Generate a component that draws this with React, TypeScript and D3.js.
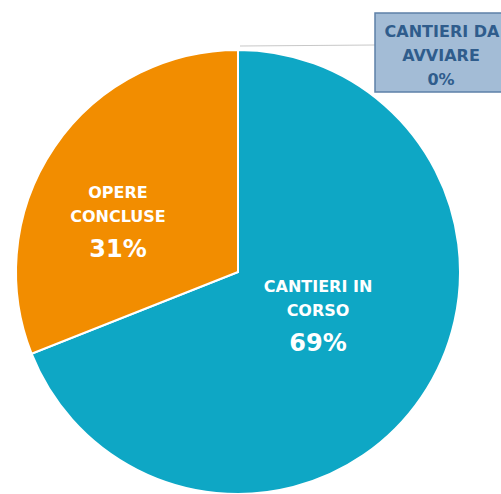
import React from "react";
import * as d3 from "d3";

const categories = ["CANTIERI IN CORSO", "OPERE CONCLUSE", "CANTIERI DA AVVIARE"];
const values = [69, 31, 0];
const percentLabels = ["69%", "31%", "0%"];
const labelLines = [["CANTIERI IN", "CORSO"], ["OPERE", "CONCLUSE"], ["CANTIERI DA", "AVVIARE"]];
const colors = ["#0EA7C5", "#F28D00", "#A3BCD6"];

const W = 501;
const H = 494;
const cx = 238;
const cy = 272;
const R = 222;

export default function App() {
  const pie = d3.pie<number>().sort(null).value((d) => d)(values);
  const arc = d3.arc<d3.PieArcDatum<number>>().innerRadius(0).outerRadius(R);
  const font = "'DejaVu Sans', sans-serif";
  const labelArc = d3.arc<d3.PieArcDatum<number>>().innerRadius(0).outerRadius(R * 0.85);
  const offsets = [[2, -2], [-42, 10]];

  const zeroSlice = pie[2];
  const topPt: [number, number] = [
    cx + R * Math.sin(zeroSlice.startAngle) + 2,
    cy - R * Math.cos(zeroSlice.startAngle) - 4,
  ];
  const box = { x: 375, y: 13, w: 132, h: 79 };

  return (
    <svg width={W} height={H} style={{ position: "absolute", left: 0, top: 0 }}>
      <rect width={W} height={H} fill="#ffffff" />
      <g transform={`translate(${cx},${cy})`}>
        {pie.slice(0, 2).map((p, i) => (
          <path key={i} d={arc(p) || ""} fill={colors[i]} stroke="#ffffff" strokeWidth={2} />
        ))}
        {pie.slice(0, 2).map((p, i) => {
          const [x, y] = labelArc.centroid(p);
          const lx = x + offsets[i][0];
          const ly = y + offsets[i][1];
          return (
            <g key={"l" + i} fill="#ffffff" fontFamily={font} fontWeight="bold" textAnchor="middle">
              <text x={lx} y={ly - 31} fontSize={16}>{labelLines[i][0]}</text>
              <text x={lx} y={ly - 7} fontSize={16}>{labelLines[i][1]}</text>
              <text x={lx} y={ly + 28} fontSize={24}>{percentLabels[i]}</text>
            </g>
          );
        })}
      </g>
      <line x1={topPt[0]} y1={topPt[1]} x2={box.x} y2={45} stroke="#c8c8c8" strokeWidth={1.2} />
      <rect x={box.x} y={box.y} width={box.w} height={box.h} fill={colors[2]} stroke="#5D80A8" strokeWidth={1.5} />
      <g fill="#2F5C8C" fontFamily={font} fontWeight="bold" textAnchor="middle" fontSize={16}>
        <text x={box.x + 67} y={37}>{labelLines[2][0]}</text>
        <text x={box.x + 66} y={61}>{labelLines[2][1]}</text>
        <text x={box.x + 66} y={85}>{percentLabels[2]}</text>
      </g>
    </svg>
  );
}
